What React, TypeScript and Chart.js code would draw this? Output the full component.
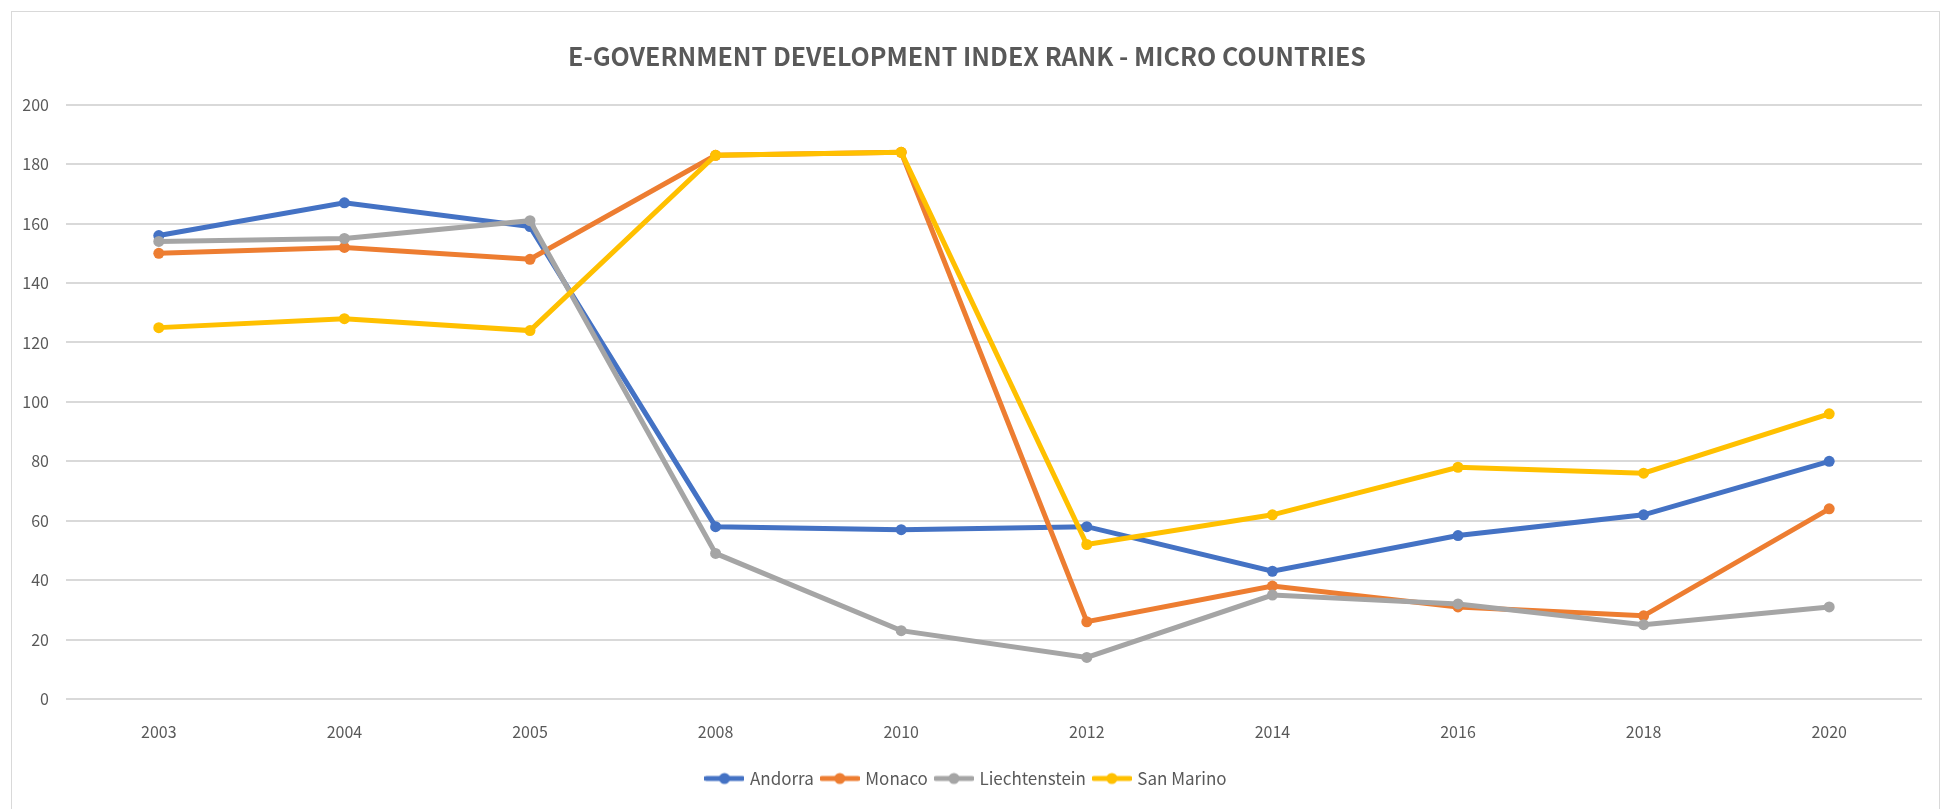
import React, { useEffect, useRef } from "react";
import { Chart, registerables } from "chart.js";

Chart.register(...registerables);

const chartTitle = "E-GOVERNMENT DEVELOPMENT INDEX RANK - MICRO COUNTRIES";
const years = ["2003", "2004", "2005", "2008", "2010", "2012", "2014", "2016", "2018", "2020"];
const seriesNames = ["Andorra", "Monaco", "Liechtenstein", "San Marino"];
const andorra = [156, 167, 159, 58, 57, 58, 43, 55, 62, 80];
const monaco = [150, 152, 148, 183, 184, 26, 38, 31, 28, 64];
const liechtenstein = [154, 155, 161, 49, 23, 14, 35, 32, 25, 31];
const sanMarino = [125, 128, 124, 183, 184, 52, 62, 78, 76, 96];
const seriesColors = ["#4472C4", "#ED7D31", "#A5A5A5", "#FFC000"];
const yMin = 0;
const yMax = 200;
const yStep = 20;

const FONT = "'Noto Sans CJK SC', 'Liberation Sans', Arial, sans-serif";
const TEXT = "#595959";

function makeIcon(color: string): HTMLCanvasElement {
  const c = document.createElement("canvas");
  c.width = 40;
  c.height = 14;
  const ctx = c.getContext("2d")!;
  ctx.strokeStyle = color;
  ctx.lineWidth = 5;
  ctx.lineCap = "round";
  ctx.beginPath();
  ctx.moveTo(2, 7);
  ctx.lineTo(38, 7);
  ctx.stroke();
  ctx.fillStyle = color;
  ctx.beginPath();
  ctx.arc(20, 7, 5.5, 0, Math.PI * 2);
  ctx.fill();
  return c;
}

export default function App() {
  const ref = useRef<HTMLCanvasElement | null>(null);

  useEffect(() => {
    if (!ref.current) return;
    const values = [andorra, monaco, liechtenstein, sanMarino];
    const icons = seriesColors.map(makeIcon);
    const chart = new Chart(ref.current, {
      type: "line",
      data: {
        labels: years,
        datasets: seriesNames.map((name, i) => ({
          label: name,
          data: values[i],
          borderColor: seriesColors[i],
          backgroundColor: seriesColors[i],
          pointBackgroundColor: seriesColors[i],
          pointBorderColor: seriesColors[i],
          borderWidth: 5,
          pointRadius: 5.5,
          pointBorderWidth: 0,
          tension: 0,
          order: seriesNames.length - i,
          clip: false as any,
        })),
      },
      options: {
        animation: false,
        responsive: false,
        maintainAspectRatio: false,
        layout: { padding: { top: 0, left: 0, right: 17, bottom: 12 } },
        plugins: {
          tooltip: { enabled: false },
          title: {
            display: true,
            text: chartTitle,
            color: TEXT,
            font: { family: FONT, size: 25, weight: "bold" },
            padding: { top: 29, bottom: 33.8 },
          },
          legend: {
            display: true,
            position: "bottom",
            labels: {
              usePointStyle: true,
              pointStyleWidth: 34,
              padding: 9,
              color: TEXT,
              font: { family: FONT, size: 17 },
              generateLabels: (ch: any) =>
                ch.data.datasets.map((ds: any, i: number) => ({
                  text: ds.label,
                  fillStyle: ds.borderColor,
                  strokeStyle: ds.borderColor,
                  lineWidth: 0,
                  pointStyle: icons[i],
                  datasetIndex: i,
                  hidden: false,
                  fontColor: TEXT,
                })),
            },
          },
        },
        scales: {
          x: {
            offset: true,
            grid: { display: false, drawTicks: false },
            border: { display: false },
            ticks: { color: TEXT, font: { family: FONT, size: 16 }, padding: 23, maxRotation: 0 },
            afterFit: (scale: any) => {
              scale.height = 62;
            },
          },
          y: {
            min: yMin,
            max: yMax,
            grid: { color: "#D9D9D9", lineWidth: 2, drawTicks: false },
            border: { display: false },
            ticks: { stepSize: yStep, color: TEXT, font: { family: FONT, size: 16 }, padding: 17 },
            afterFit: (scale: any) => {
              scale.width = 54;
            },
          },
        },
      },
    });
    return () => chart.destroy();
  }, []);

  return (
    <div
      style={{
        marginLeft: 3,
        marginTop: 3,
        width: 1927,
        height: 797,
        borderTop: "1px solid #D9D9D9",
        borderLeft: "1px solid #D9D9D9",
        borderRight: "1px solid #D9D9D9",
        background: "#fff",
      }}
    >
      <canvas ref={ref} width={1927} height={797} style={{ display: "block" }} />
    </div>
  );
}
